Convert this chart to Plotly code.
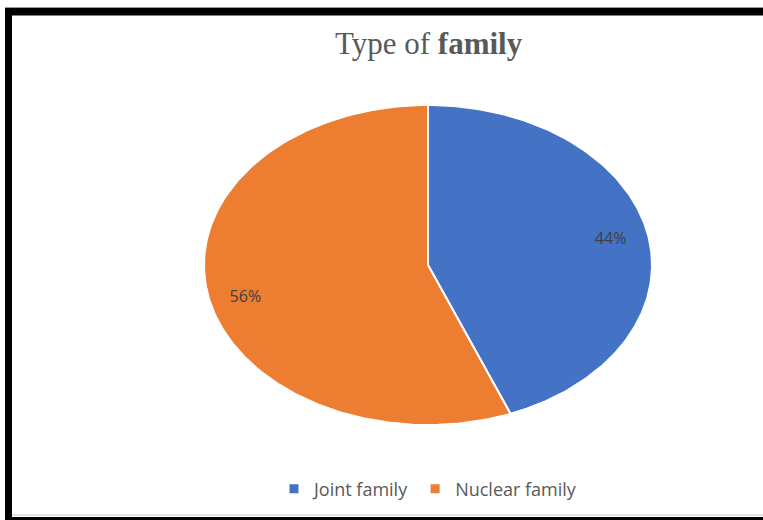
import numpy as np
import plotly.graph_objects as go

# ---- data ----
categories = ["Joint family", "Nuclear family"]
values = [44, 56]
colors = ["#4472C4", "#ED7D31"]
title_plain = "Type of "
title_bold = "family"

W, H = 763, 520

fig = go.Figure()

total = float(sum(values))
start = 0.0
label_x, label_y, label_t = [], [], []
for cat, v, c in zip(categories, values, colors):
    frac = v / total
    n = max(int(frac * 400), 8)
    th = np.linspace(start, start + frac, n) * 2 * np.pi
    xs = np.concatenate([[0.0], np.sin(th), [0.0]])
    ys = np.concatenate([[0.0], np.cos(th), [0.0]])
    fig.add_trace(go.Scatter(
        x=xs, y=ys, mode="lines", fill="toself", fillcolor=c,
        line=dict(color="white", width=2), name=cat, hoverinfo="name",
        showlegend=False, legendgroup=cat,
    ))
    # legend entry with a square marker
    fig.add_trace(go.Scatter(
        x=[None], y=[None], mode="markers", name=cat, legendgroup=cat,
        marker=dict(symbol="square", size=9, color=c), showlegend=True,
    ))
    mid = (start + frac / 2) * 2 * np.pi
    r = 0.83
    label_x.append(r * np.sin(mid))
    label_y.append(r * np.cos(mid))
    label_t.append(f"{round(frac * 100)}%")
    start += frac

fig.add_trace(go.Scatter(
    x=label_x, y=label_y, mode="text", text=label_t,
    textfont=dict(family="Open Sans", size=16, color="#404040"),
    textposition=["middle center", "bottom center"],
    showlegend=False, hoverinfo="skip",
))

# pie ellipse pixel extent
px0, px1 = 204, 652
py0, py1 = 105, 425

fig.update_layout(
    width=W, height=H,
    margin=dict(l=0, r=0, t=0, b=0),
    paper_bgcolor="white", plot_bgcolor="white",
    xaxis=dict(range=[-1, 1], domain=[px0 / W, px1 / W], visible=False, fixedrange=True),
    yaxis=dict(range=[-1, 1], domain=[1 - py1 / H, 1 - py0 / H], visible=False, fixedrange=True),
    showlegend=True,
    legend=dict(
        orientation="h", x=428 / W, xanchor="center", y=1 - 489 / H, yanchor="middle",
        font=dict(family="Open Sans", size=18, color="#595959"),
        itemwidth=30, bgcolor="rgba(0,0,0,0)", tracegroupgap=0,
    ),
    annotations=[dict(
        text=f"{title_plain}<b>{title_bold}</b>", xref="paper", yref="paper",
        x=429 / W, y=1 - 43 / H, xanchor="center", yanchor="middle", showarrow=False,
        font=dict(family="Liberation Serif", size=31, color="#595959"),
    )],
    shapes=[
        # top band
        dict(type="rect", xref="paper", yref="paper", x0=5 / W, x1=1.0, y0=1 - 15.5 / H, y1=1 - 8 / H,
             fillcolor="black", line=dict(width=0), layer="above"),
        dict(type="line", xref="paper", yref="paper", x0=5 / W, x1=1.0, y0=1 - 7.5 / H, y1=1 - 7.5 / H,
             line=dict(color="#9a9a9a", width=1), layer="above"),
        # left band
        dict(type="rect", xref="paper", yref="paper", x0=5 / W, x1=12 / W, y0=0, y1=1 - 8 / H,
             fillcolor="black", line=dict(width=0), layer="above"),
        # bottom lines
        dict(type="line", xref="paper", yref="paper", x0=12 / W, x1=1.0, y0=1 - 515 / H, y1=1 - 515 / H,
             line=dict(color="#c8c8c8", width=1), layer="above"),
        dict(type="rect", xref="paper", yref="paper", x0=5 / W, x1=1.0, y0=0, y1=1 - 517 / H,
             fillcolor="black", line=dict(width=0), layer="above"),
    ],
)

fig.write_html(
    "out.html",
    config={"displayModeBar": False},
    post_script="document.body.style.margin='0';document.body.style.overflow='hidden';",
)
